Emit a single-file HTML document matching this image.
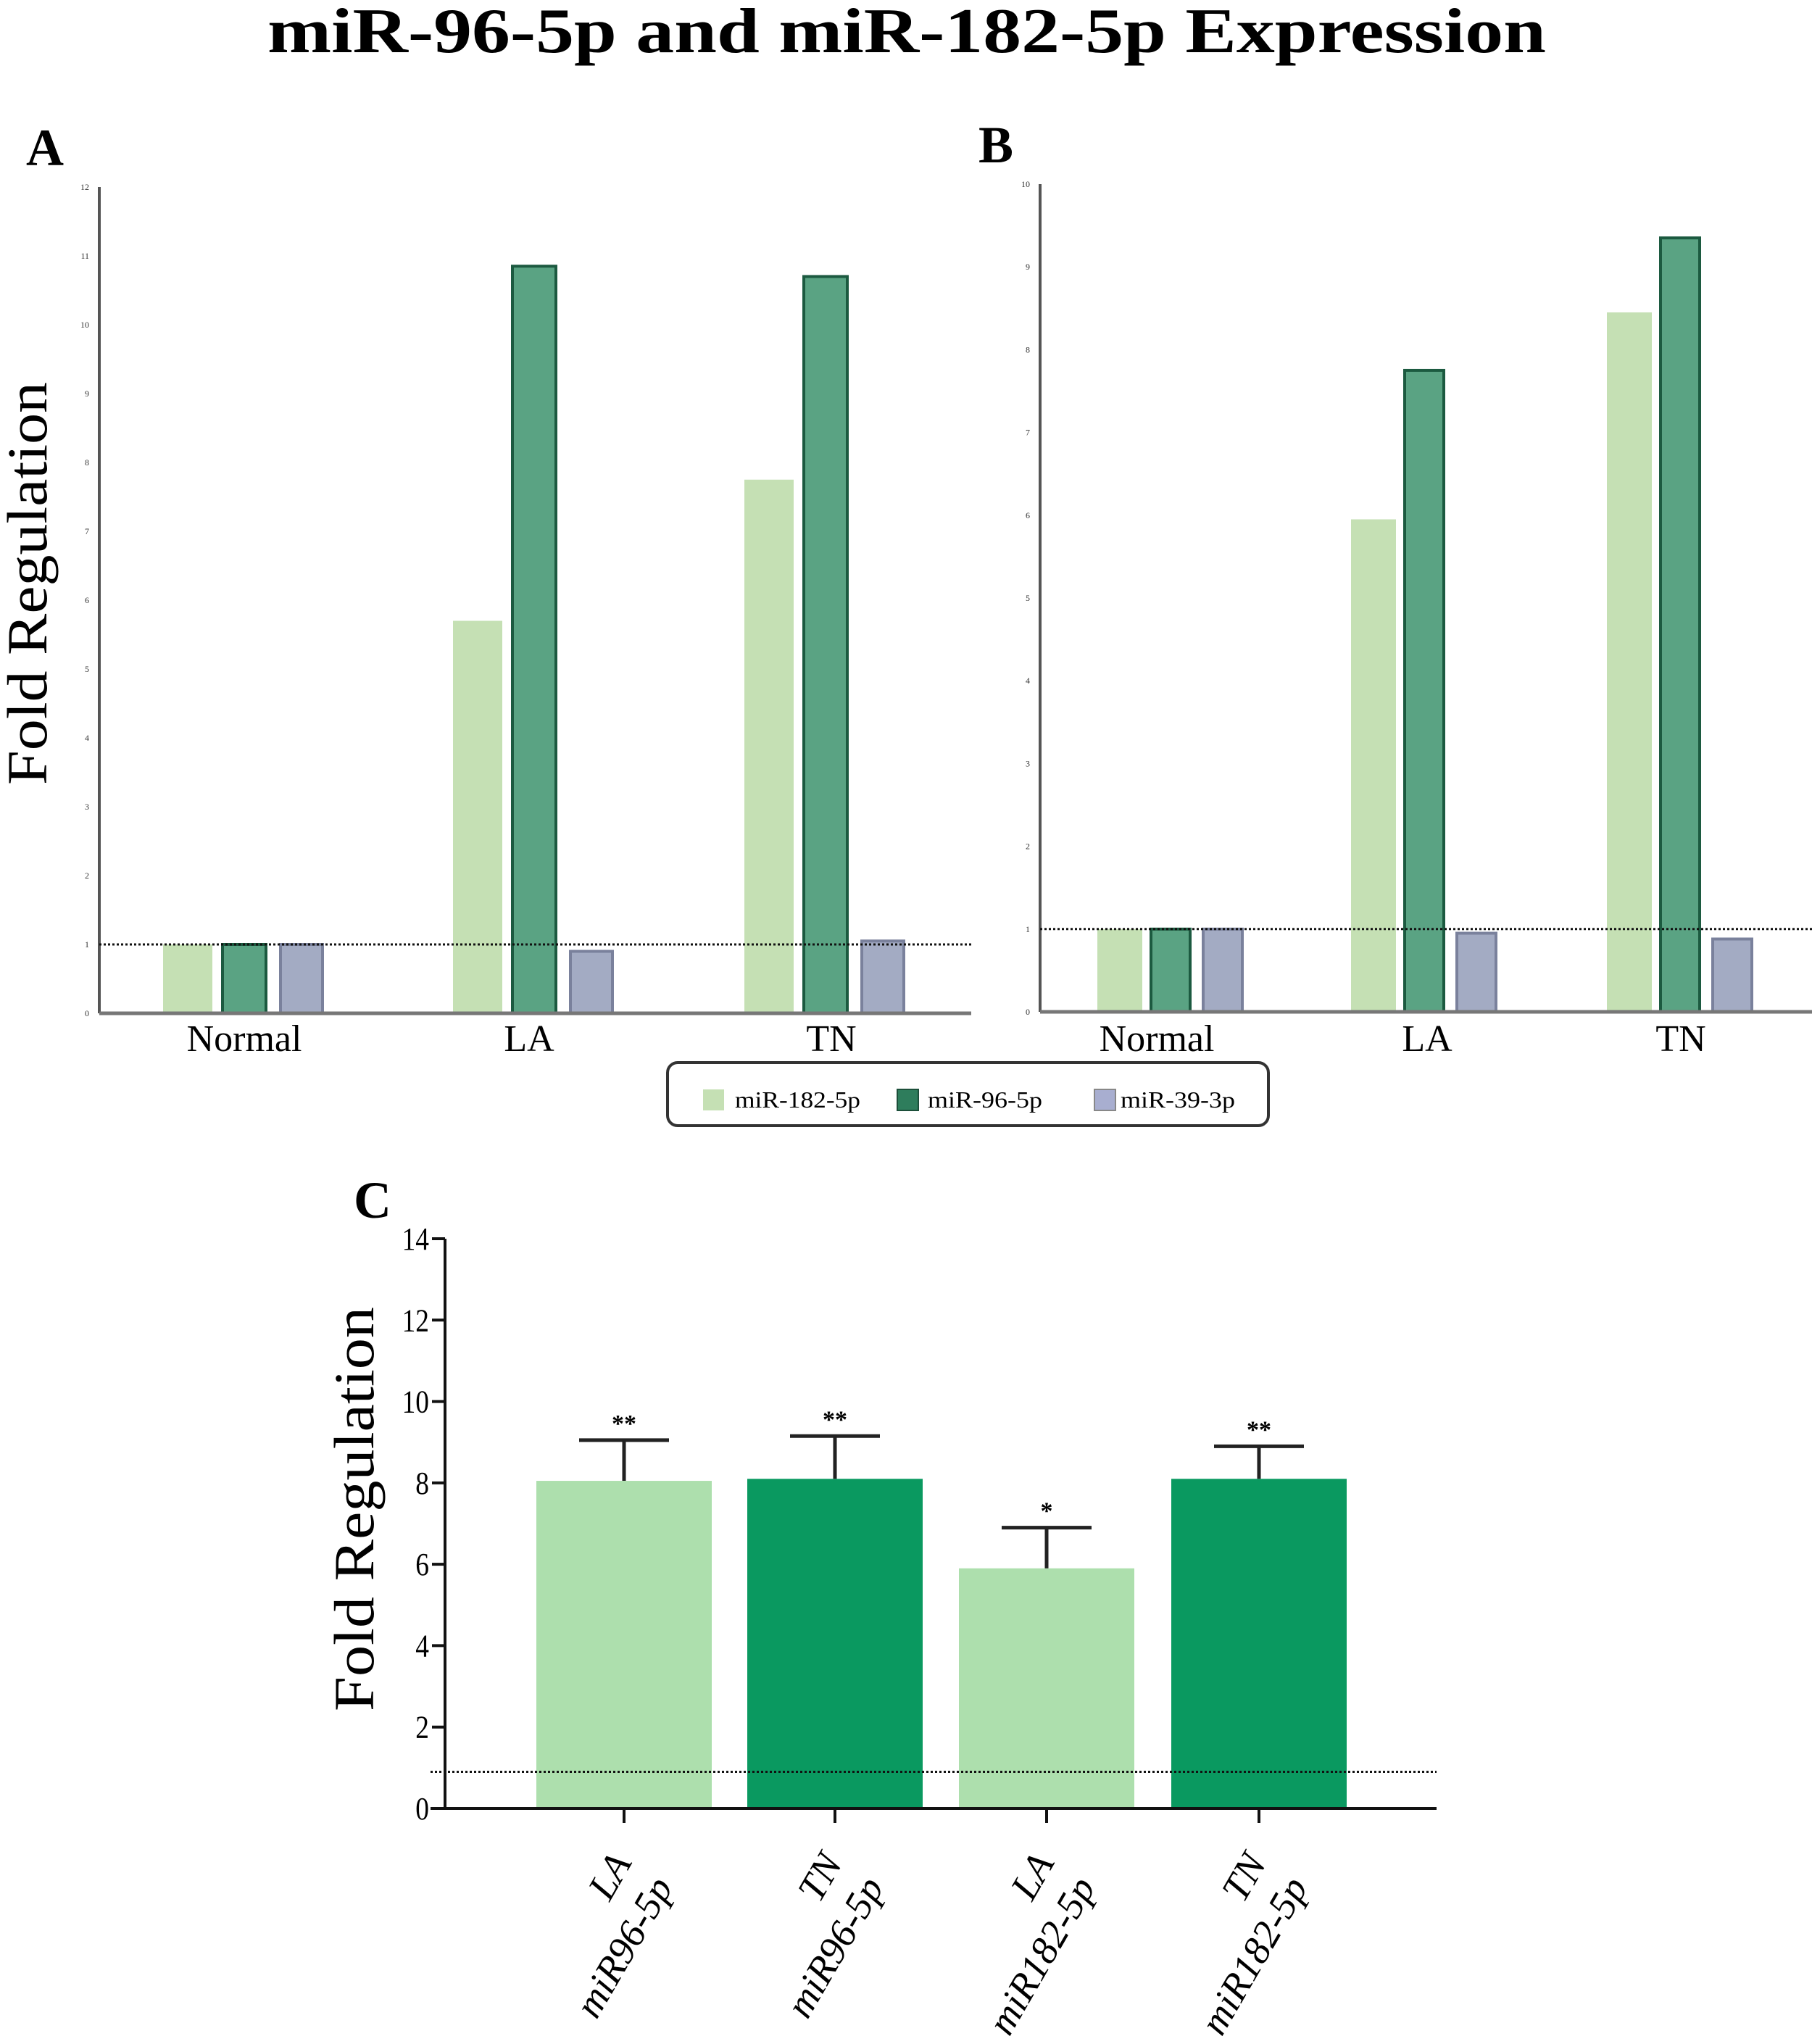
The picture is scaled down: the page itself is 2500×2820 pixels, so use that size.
<!DOCTYPE html>
<html><head><meta charset="utf-8">
<style>
html,body{margin:0;padding:0;background:#fff;}
svg{display:block;font-family:"Liberation Serif",serif;}
</style></head>
<body>
<svg id="fig" width="2500" height="2820" viewBox="0 0 2500 2820" xmlns="http://www.w3.org/2000/svg">
<text x="1251" y="72" text-anchor="middle" font-size="88" font-weight="bold" textLength="1764" lengthAdjust="spacingAndGlyphs">miR-96-5p and miR-182-5p Expression</text>
<text x="36" y="228" font-size="72" font-weight="bold">A</text>
<text x="1350" y="224" font-size="72" font-weight="bold">B</text>
<text x="488" y="1680" font-size="72" font-weight="bold">C</text>
<text transform="translate(64,805) rotate(-90)" text-anchor="middle" font-size="78" textLength="556" lengthAdjust="spacingAndGlyphs">Fold Regulation</text>
<text transform="translate(515,2082) rotate(-90)" text-anchor="middle" font-size="78" textLength="558" lengthAdjust="spacingAndGlyphs">Fold Regulation</text>
<g>
<rect x="921" y="1466" width="829" height="87" rx="14" fill="none" stroke="#333" stroke-width="4"/>
<g><rect x="970" y="1503" width="29" height="29" fill="#c5e0b4"/><text x="1014" y="1528" font-size="32" textLength="173" lengthAdjust="spacingAndGlyphs">miR-182-5p</text></g>
<g><rect x="1238" y="1503" width="29" height="29" fill="#2e7d5c" stroke="#1c4f3a" stroke-width="2"/><text x="1280" y="1528" font-size="32" textLength="158" lengthAdjust="spacingAndGlyphs">miR-96-5p</text></g>
<g><rect x="1510" y="1503" width="29" height="29" fill="#a8aed0" stroke="#888" stroke-width="2"/><text x="1546" y="1528" font-size="32" textLength="158" lengthAdjust="spacingAndGlyphs">miR-39-3p</text></g>
</g>
<g id="pa"></g>
<g id="pb"></g>
<g id="pc"></g>
</svg>
<script>
const groupCats = ["Normal","LA","TN"];
const seriesNames = ["miR-182-5p","miR-96-5p","miR-39-3p"];
const aMir182 = [1, 5.7, 7.75];
const aMir96 = [1, 10.85, 10.7];
const aMir39 = [1, 0.9, 1.05];
const aTicks = [0,1,2,3,4,5,6,7,8,9,10,11,12];
const bMir182 = [1, 5.95, 8.45];
const bMir96 = [1, 7.75, 9.35];
const bMir39 = [1, 0.95, 0.88];
const bTicks = [0,1,2,3,4,5,6,7,8,9,10];
const cCats = [["LA","miR96-5p"],["TN","miR96-5p"],["LA","miR182-5p"],["TN","miR182-5p"]];
const cMeans = [8.05, 8.1, 5.9, 8.1];
const cErrTop = [9.05, 9.15, 6.9, 8.9];
const cStars = ["**","**","*","**"];
const cTicks = [0,2,4,6,8,10,12,14];
const refLine = [1, 1, 0.9];

const NS = "http://www.w3.org/2000/svg";
function mk(parent, tag, attrs, txt){
  const e = document.createElementNS(NS, tag);
  for (const k in attrs) e.setAttribute(k, attrs[k]);
  if (txt !== undefined) e.textContent = txt;
  parent.appendChild(e);
  return e;
}

function groupedPanel(gid, pfx, cfg, series, ticks, ref){
  const g = document.getElementById(gid);
  const y = v => cfg.y0 - (v - ticks[0]) / (ticks[ticks.length-1] - ticks[0]) * (cfg.y0 - cfg.yTop);
  const fills = ["#c5e0b4","#5aa383","#a3abc3"];
  const strokes = ["#c5e0b4","#1c5a40","#7a819c"];
  series.forEach((vals, s) => {
    vals.forEach((v, i) => {
      const x = cfg.gx[i] + cfg.off[s];
      const r = mk(g, "rect", {x: x, y: y(v), width: cfg.bw[s], height: cfg.y0 - y(v), fill: fills[s], stroke: strokes[s], "stroke-width": s === 0 ? 0 : 4});
      
      
    });
  });
  const ax = mk(g, "line", {x1: cfg.x0, y1: cfg.yTop, x2: cfg.x0, y2: cfg.y0, stroke: "#555", "stroke-width": 4});
  
  
  const bx = mk(g, "line", {x1: cfg.x0, y1: cfg.y0, x2: cfg.x1, y2: cfg.y0, stroke: "#777", "stroke-width": 5});
  
  
  ticks.forEach(t => {
    const tl = mk(g, "text", {x: cfg.x0 - 14, y: y(t) + 4, "font-size": 12, "text-anchor": "end", fill: "#333"}, String(t));
    
    
  });
  const dl = mk(g, "line", {x1: cfg.x0, y1: y(ref), x2: cfg.x1, y2: y(ref), stroke: "#111", "stroke-width": 3, "stroke-dasharray": "3,3"});
  
  
  groupCats.forEach((c, i) => {
    const t = mk(g, "text", {x: cfg.lx[i], y: 1450, "font-size": 52, "text-anchor": "middle"}, c);
    
    
  });
}

groupedPanel("pa", "panel-a", {x0:137, x1:1340, y0:1398, yTop:258, gx:[225,625,1027], off:[0,82,162], bw:[68,60,58], lx:[337,730,1147]}, [aMir182, aMir96, aMir39], aTicks, refLine[0]);
groupedPanel("pb", "panel-b", {x0:1435, x1:2500, y0:1396, yTop:254, gx:[1514,1864,2217], off:[0,74,146], bw:[62,54,54], lx:[1596,1969,2319]}, [bMir182, bMir96, bMir39], bTicks, refLine[1]);

(function(){
  const g = document.getElementById("pc");
  const x0 = 614, x1 = 1982, y0 = 2495, yTop = 1709;
  const y = v => y0 - v / cTicks[cTicks.length-1] * (y0 - yTop);
  const bx = [740, 1031, 1323, 1616], bw = 242;
  const fills = ["#addfad","#0a9960","#addfad","#0a9960"];
  cMeans.forEach((v, i) => {
    const cx = bx[i] + bw/2;
    const r = mk(g, "rect", {x: bx[i], y: y(v), width: bw, height: y0 - y(v), fill: fills[i]});
    
    
    const e = mk(g, "path", {d: `M${cx},${y(v)} V${y(cErrTop[i])} M${cx-62},${y(cErrTop[i])} H${cx+62}`, stroke: "#222", "stroke-width": 5, fill: "none"});
    
    
    const s = mk(g, "text", {x: cx, y: y(cErrTop[i]) - 12, "font-size": 34, "font-weight": "bold", "text-anchor": "middle"}, cStars[i]);
    
    
    const tk = mk(g, "line", {x1: cx, y1: y0, x2: cx, y2: y0 + 20, stroke: "#111", "stroke-width": 4});
    
    
    const lg = mk(g, "g", {transform: `translate(${cx+20},${y0+80}) rotate(-60)`, "font-size": 54, "font-style": "italic", "text-anchor": "end"});
    
    
    const t1 = mk(lg, "text", {x: 0, y: -10}, cCats[i][0]);
    
    
    const t2 = mk(lg, "text", {x: 0, y: 56}, cCats[i][1]);
    
    
  });
  const ay = mk(g, "line", {x1: x0, y1: yTop, x2: x0, y2: y0 + 2, stroke: "#111", "stroke-width": 4});
  
  
  const ax = mk(g, "line", {x1: x0 - 20, y1: y0, x2: x1, y2: y0, stroke: "#111", "stroke-width": 4});
  
  
  cTicks.forEach(t => {
    const tk = mk(g, "line", {x1: x0 - 18, y1: y(t), x2: x0, y2: y(t), stroke: "#111", "stroke-width": 4});
    
    
    const tl = mk(g, "text", {x: x0 - 22, y: y(t) + 15, "font-size": 44, "text-anchor": "end", transform: `translate(${(x0-22)*0.15},0) scale(0.85,1)`}, String(t));
    
    
  });
  const dl = mk(g, "line", {x1: x0 - 20, y1: y(refLine[2]), x2: x1, y2: y(refLine[2]), stroke: "#111", "stroke-width": 3, "stroke-dasharray": "3,3"});
  
  
})();
</script>
</body></html>
